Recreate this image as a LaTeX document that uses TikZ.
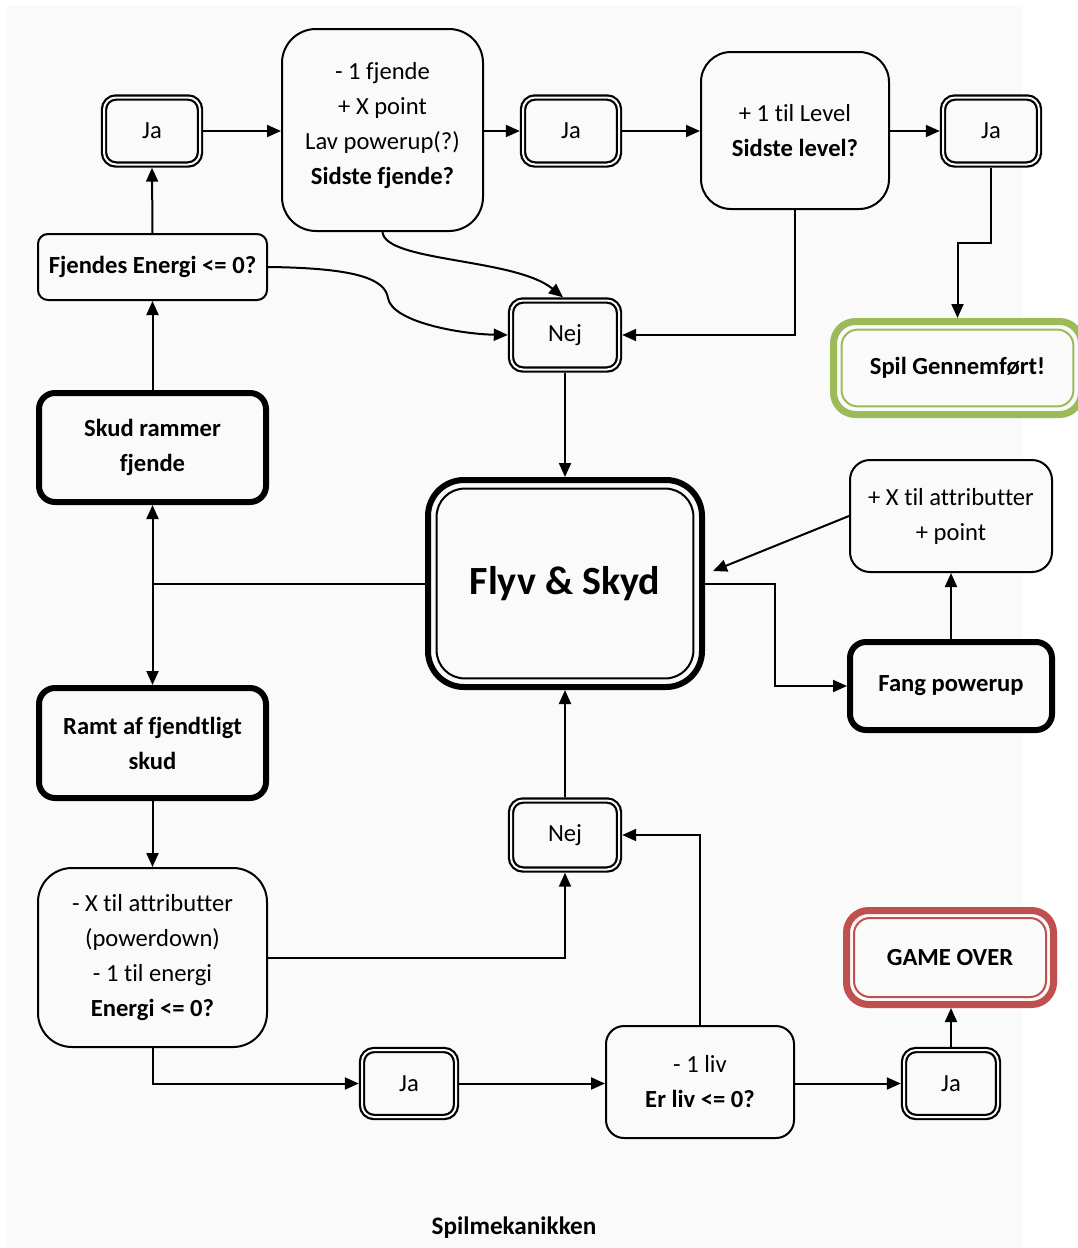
\documentclass[tikz,border=0pt]{standalone}
\usepackage{fontspec}
\setmainfont{Carlito}[Ligatures={NoCommon}]
\usetikzlibrary{arrows.meta}
\definecolor{bg}{HTML}{FAFAFA}
\definecolor{okgreen}{HTML}{9BBB59}
\definecolor{badred}{HTML}{C0504D}
\tikzset{
  base/.style={font=\fontsize{12.3}{17.5}\selectfont, align=center, fill=bg, inner sep=0pt},
  plainbox/.style={base, draw, line width=1pt, rounded corners=#1},
  plainbox/.default=10pt,
  dblbox/.style={base, draw, line width=1.1pt, double=bg, double distance=1pt, rounded corners=6pt, outer sep=1.6pt},
  heavybox/.style={base, draw, line width=3pt, rounded corners=8pt, font=\fontsize{12.3}{17.5}\selectfont\bfseries},
  conn/.style={line width=1pt, -{Triangle[length=7pt,width=6pt]}},
}
\begin{document}
\begin{tikzpicture}[x=0.5pt,y=-0.5pt]
\useasboundingbox (0,0) rectangle (1077,1248);
\fill[white] (0,0) rectangle (1077,1248);
\fill[bg] (7,5) rectangle (1023,1248);

% top row
\node[dblbox, minimum width=48pt, minimum height=33.5pt] (ja1) at (152,131) {Ja};
\node[plainbox=17pt, minimum width=100.5pt, minimum height=101pt] (b2) at (382.5,130)
  {- 1 fjende\\+ X point\\Lav powerup(?)\\\textbf{Sidste fjende?}\\[-10.5pt]};
\node[dblbox, minimum width=48pt, minimum height=33.5pt] (ja2) at (571,131) {Ja};
\node[plainbox=15pt, minimum width=94pt, minimum height=78.5pt] (b4) at (795,130.5)
  {+ 1 til Level\\\textbf{Sidste level?}};
\node[dblbox, minimum width=48pt, minimum height=33.5pt] (ja3) at (991,131) {Ja};

\node[plainbox=5pt, minimum width=114.5pt, minimum height=33pt, font=\fontsize{12.3}{17.5}\selectfont\bfseries] (fj) at (152.5,267) {Fjendes Energi <= 0?};
\node[dblbox, minimum width=54pt, minimum height=34.5pt] (nejT) at (565,335) {Nej};

% green end box
\node[base, draw=okgreen, line width=3.5pt, rounded corners=11pt, minimum width=124pt, minimum height=46.5pt, font=\fontsize{12.3}{17.5}\selectfont\bfseries] (green) at (957.5,368) {Spil Gennemført!};
\draw[okgreen, line width=1pt, rounded corners=8pt] ([shift={(5.8pt,-5.8pt)}]green.north west) rectangle ([shift={(-5.8pt,5.8pt)}]green.south east);

% middle
\node[heavybox, minimum width=113.5pt, minimum height=54.5pt] (skud) at (152.5,447.5) {Skud rammer\\fjende};
\node[base, draw, line width=3pt, rounded corners=18pt, minimum width=137pt, minimum height=103.5pt, font=\fontsize{20}{24}\selectfont\bfseries] (flyv) at (565,583.5) {Flyv \& Skyd};
\draw[line width=1pt, rounded corners=14pt] ([shift={(5.8pt,-5.8pt)}]flyv.north west) rectangle ([shift={(-5.8pt,5.8pt)}]flyv.south east);
\node[plainbox=10pt, minimum width=101pt, minimum height=56pt] (b11) at (951,516) {+ X til attributter\\+ point};
\node[heavybox, minimum width=101pt, minimum height=44pt] (fang) at (951,686) {Fang powerup};
\node[heavybox, minimum width=113.5pt, minimum height=55pt] (ramt) at (152.5,743) {Ramt af fjendtligt\\skud};

% bottom
\node[dblbox, minimum width=54pt, minimum height=34.5pt] (nejB) at (565,835) {Nej};
\node[plainbox=17pt, minimum width=114.5pt, minimum height=89.5pt] (b15) at (152.5,957.5)
  {- X til attributter\\(powerdown)\\- 1 til energi\\\textbf{Energi <= 0?}};
\node[dblbox, minimum width=47pt, minimum height=33.5pt] (jaBL) at (409,1083.5) {Ja};
\node[plainbox=9pt, minimum width=94pt, minimum height=56pt] (b17) at (700,1082) {- 1 liv\\\textbf{Er liv <= 0?}};
\node[dblbox, minimum width=47pt, minimum height=33.5pt] (jaBR) at (951,1083.5) {Ja};

% red end box
\node[base, draw=badred, line width=3.5pt, rounded corners=11pt, minimum width=103.5pt, minimum height=47pt, font=\fontsize{12.3}{17.5}\selectfont\bfseries] (red) at (950,957.5) {GAME OVER};
\draw[badred, line width=1pt, rounded corners=8pt] ([shift={(5.5pt,-5.5pt)}]red.north west) rectangle ([shift={(-5.5pt,5.5pt)}]red.south east);

\node[font=\fontsize{12.6}{15}\selectfont\bfseries] (cap) at (514,1228) {Spilmekanikken};

% helper coordinates
\coordinate (g1) at (0,243);
\coordinate (c1) at (775,0);
\coordinate (fin) at (713,571);

% connectors
\draw[conn] (ja1.east) -- (b2.west |- ja1.east);
\draw[conn] (b2.east |- ja2.west) -- (ja2.west);
\draw[conn] (ja2.east) -- (b4.west |- ja2.east);
\draw[conn] (b4.east |- ja3.west) -- (ja3.west);
\draw[conn] (ja3.south) -- (ja3.south |- g1) -| (green.north);
\draw[conn] (b4.south) |- (nejT.east);
\draw[conn] (b2.south) .. controls (385,262) and (515,258) .. ([xshift=-1pt]nejT.north);
\draw[conn] (fj.east) .. controls (360,268) and (385,280) .. (388,298) .. controls (392,322) and (460,334) .. (nejT.west);
\draw[conn] (fj.north) -- (ja1.south);
\draw[conn] (skud.north) -- (fj.south);
\draw[conn] (nejT.south) -- (flyv.north);
\draw[line width=1pt] (flyv.west) -- (flyv.west -| skud.south);
\draw[line width=1pt, {Triangle[length=7pt,width=6pt]}-{Triangle[length=7pt,width=6pt]}] (skud.south) -- (ramt.north);
\draw[conn] (b11.west) -- (fin);
\draw[conn] (flyv.east) -- (flyv.east -| c1) |- (fang.west);
\draw[conn] (fang.north) -- (b11.south);
\draw[conn] (nejB.north) -- (flyv.south);
\draw[conn] (ramt.south) -- (b15.north);
\draw[conn] (b15.east) -| (nejB.south);
\draw[conn] (b15.south) |- (jaBL.west);
\draw[conn] (jaBL.east) -- (b17.west |- jaBL.east);
\draw[conn] (b17.north) |- (nejB.east);
\draw[conn] (b17.east |- jaBR.west) -- (jaBR.west);
\draw[conn] (jaBR.north) -- (jaBR.north |- red.south);
\end{tikzpicture}
\end{document}
